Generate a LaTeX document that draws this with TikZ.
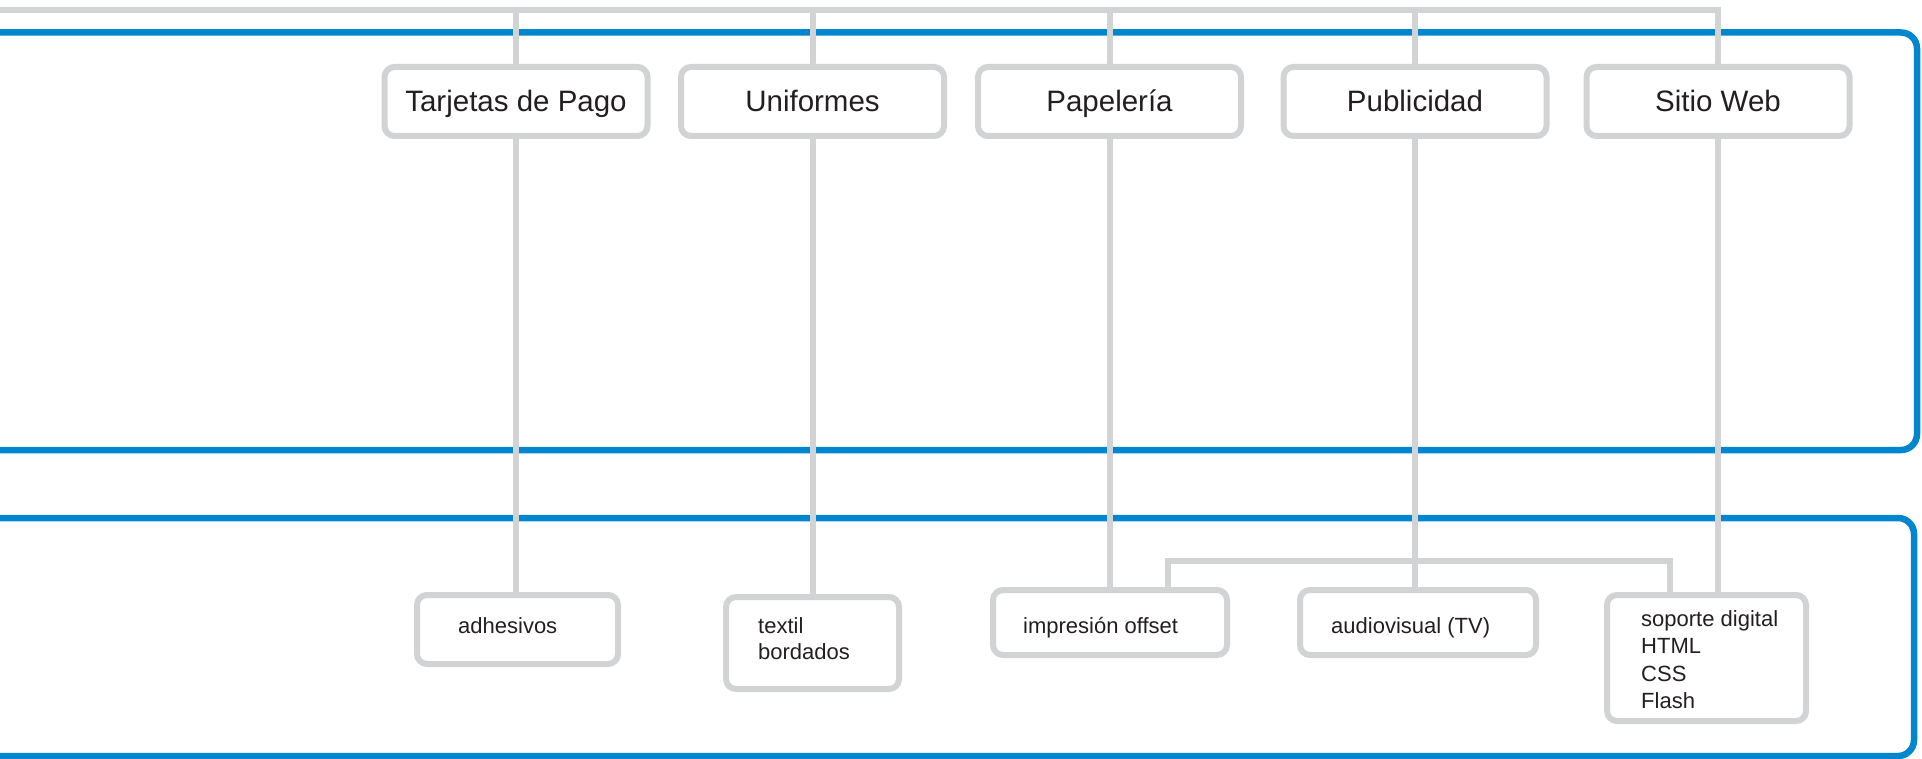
\documentclass[tikz,border=0pt]{standalone}
\usepackage{fontspec}
\setmainfont{Liberation Sans}
\definecolor{frameblue}{RGB}{0,134,206}
\definecolor{lgrey}{RGB}{209,211,212}
\definecolor{txt}{RGB}{35,31,32}
\tikzset{
  gline/.style={draw=lgrey, line width=6pt},
  bframe/.style={draw=frameblue, line width=6.5pt, rounded corners=16pt},
  topbox/.style={draw=lgrey, line width=6pt, fill=white, rounded corners=10pt, inner sep=0pt,
     minimum width=263pt, minimum height=69pt, text=txt,
     font=\fontsize{29.5pt}{35pt}\selectfont, text height=21pt, text depth=0pt},
  subbox/.style={draw=lgrey, line width=6pt, fill=white, rounded corners=10pt, inner sep=0pt},
  subtxt/.style={anchor=base west, inner sep=0pt, text=txt, font=\fontsize{22pt}{27pt}\selectfont}
}
\begin{document}
\begin{tikzpicture}[x=1pt,y=-1pt]
\useasboundingbox (0,0) rectangle (1922,759);
\clip (0,0) rectangle (1922,759);
% blue frames
\draw[bframe] (0,32.5) -| (1917,450) -- (0,450);
\draw[bframe] (0,518) -| (1914,756) -- (0,756);
% top boxes
\node[topbox] (tar) at (516,101.5) {Tarjetas de Pago};
\node[topbox] (uni) at (812.5,101.5) {Uniformes};
\node[topbox] (pap) at (1109.5,101.5) {Papelería};
\node[topbox] (pub) at (1415,101.5) {Publicidad};
\node[topbox] (web) at (1718,101.5) {Sitio Web};
% lower boxes
\node[subbox, minimum width=201pt, minimum height=69pt] (adh) at (517.5,629.5) {};
\node[subbox, minimum width=173pt, minimum height=92pt] (tex) at (812.5,643) {};
\node[subbox, minimum width=234pt, minimum height=65pt] (imp) at (1110,622.5) {};
\node[subbox, minimum width=236pt, minimum height=65pt] (aud) at (1418,622.5) {};
\node[subbox, minimum width=199pt, minimum height=126pt] (sop) at (1706.5,658) {};
% lower texts
\node[subtxt] (t1) at (458,633) {adhesivos};
\node[subtxt] (t2) at (758,633) {textil};
\node[subtxt] (t3) at (758,659) {bordados};
\node[subtxt] (t4) at (1023,633) {impresión offset};
\node[subtxt] (t5) at (1331,633) {audiovisual (TV)};
\node[subtxt] (t6) at (1641,626) {soporte digital};
\node[subtxt] (t7) at (1641,653) {HTML};
\node[subtxt] (t8) at (1641,681) {CSS};
\node[subtxt] (t9) at (1641,708) {Flash};
% connectors
\coordinate (topl) at (0,10);
\draw[gline] (topl) -| (web.north);
\foreach \n in {tar,uni,pap,pub}{
  \draw[gline] (\n.north) -- (\n.north |- topl);
}
\draw[gline] (tar.south) -- (tar.south |- adh.north);
\draw[gline] (uni.south) -- (uni.south |- tex.north);
\draw[gline] (pap.south) -- (pap.south |- imp.north);
\draw[gline] (pub.south) -- (pub.south |- aud.north);
\draw[gline] (web.south) -- (web.south |- sop.north);
\coordinate (j1) at (1168,561);
\coordinate (j2) at (1670,561);
\draw[gline] (imp.north -| j1) -- (j1) -- (j2) -- (j2 |- sop.north);
\end{tikzpicture}
\end{document}
